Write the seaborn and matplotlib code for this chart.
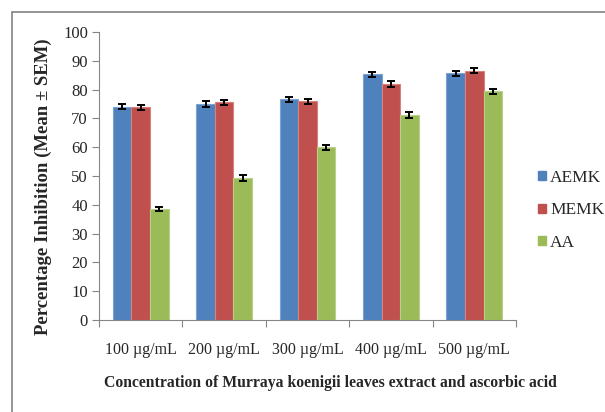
import matplotlib
matplotlib.use("Agg")
import matplotlib.pyplot as plt
from matplotlib.lines import Line2D
from matplotlib.patches import Patch
import seaborn as sns
import pandas as pd
import numpy as np

concentrations = ["100 µg/mL", "200 µg/mL", "300 µg/mL", "400 µg/mL", "500 µg/mL"]
aemk = [74.1, 75.1, 76.6, 85.3, 85.7]
memk = [73.8, 75.6, 75.9, 81.9, 86.6]
aa = [38.6, 49.3, 60.0, 71.2, 79.4]
aemk_sem = [0.9, 1.0, 0.9, 0.9, 0.9]
memk_sem = [0.9, 0.9, 1.0, 1.0, 1.0]
aa_sem = [0.8, 0.9, 0.8, 0.9, 0.8]
series = ["AEMK", "MEMK", "AA"]
colors = ["#4F81BD", "#C0504D", "#9BBB59"]
edges = ["#7FA3D1", "#D58280", "#B8D08A"]

df = pd.DataFrame({
    "Concentration": concentrations * 3,
    "Extract": np.repeat(series, len(concentrations)),
    "Inhibition": aemk + memk + aa,
    "SEM": aemk_sem + memk_sem + aa_sem,
})

sns.set_style("white")
plt.rcParams["font.family"] = ["Liberation Serif", "DejaVu Serif"]

fig = plt.figure(figsize=(6.05, 4.12), dpi=100)
ax = fig.add_axes([99 / 605, 1 - 320 / 412, (516 - 99) / 605, (320 - 32) / 412])

sns.barplot(data=df, x="Concentration", y="Inhibition", hue="Extract",
            palette=colors, errorbar=None, width=0.667, saturation=1,
            linewidth=0.8, ax=ax, legend=False)

# colour each bar's outline and put its SEM whisker on it
bar_groups = list(ax.containers)
for k, container in enumerate(bar_groups):
    sub = df[df["Extract"] == series[k]]
    xs = []
    for bar in container:
        bar.set_edgecolor(edges[k])
        xs.append(bar.get_x() + bar.get_width() / 2)
    ax.errorbar(xs, sub["Inhibition"].to_numpy(), yerr=sub["SEM"].to_numpy(),
                fmt="none", ecolor="black", elinewidth=1.4, capsize=2.8,
                capthick=1.4, zorder=5)

ax.set_ylim(0, 100)
ax.set_xlim(-0.5, 4.5)
ax.set_yticks(range(0, 101, 10))
ax.set_xlabel("")
ax.set_ylabel("")
ax.tick_params(axis="y", labelsize=12, length=5, width=0.8, color="#868686",
               direction="out", left=True, pad=3)
ax.tick_params(axis="x", which="major", labelsize=11.5, length=0, pad=16)
ax.set_xticks(np.arange(-0.5, 4.6, 1), minor=True)
ax.tick_params(axis="x", which="minor", length=5, width=0.8, color="#868686",
               direction="out", bottom=True)
for side in ("top", "right"):
    ax.spines[side].set_visible(False)
for side in ("left", "bottom"):
    ax.spines[side].set_color("#868686")
    ax.spines[side].set_linewidth(0.8)

fig.text(43 / 605, 1 - 187 / 412, "Percentage Inhibition (Mean ± SEM)",
         rotation=90, ha="center", va="center", fontsize=13.5, fontweight="bold")
fig.text(330 / 605, 1 - 383 / 412,
         "Concentration of Murraya koenigii leaves extract and ascorbic acid",
         ha="center", va="center", fontsize=11.3, fontweight="bold")

handles = [Patch(facecolor=c, edgecolor=c) for c in colors]
fig.legend(handles, series, loc="upper left",
           bbox_to_anchor=(538 / 605, 1 - 170 / 412), frameon=False,
           fontsize=12.5, handlelength=0.45, handleheight=0.45,
           handletextpad=0.25, labelspacing=0.95, borderpad=0, borderaxespad=0)

# outer chart frame
fig.add_artist(Line2D([12 / 605, 12 / 605], [0, 1 - 12 / 412],
                      transform=fig.transFigure, color="#8C8C8C", lw=1.3))
fig.add_artist(Line2D([12 / 605, 1], [1 - 12 / 412, 1 - 12 / 412],
                      transform=fig.transFigure, color="#8C8C8C", lw=1.3))

fig.savefig("out.png", dpi=100)
